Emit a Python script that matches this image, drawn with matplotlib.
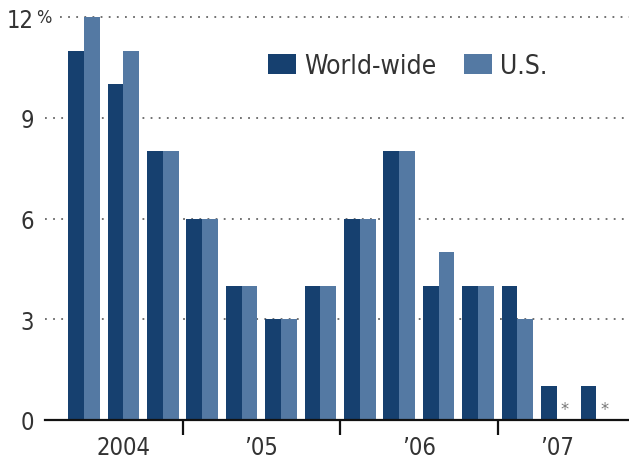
import matplotlib
matplotlib.use('Agg')
import matplotlib.pyplot as plt
import numpy as np

plt.rcParams['font.family'] = ['DejaVu Sans']
plt.rcParams['font.stretch'] = 'condensed'

# quarterly values, 2004 Q2 .. 2007 Q3
world = [11, 10, 8, 6, 4, 3, 4, 6, 8, 4, 4, 4, 1, 1]
us = [12, 11, 8, 6, 4, 3, 4, 6, 8, 5, 4, 3, None, None]
years = ['2004', '\u201905', '\u201906', '\u201907']
year_pos = [1, 4.5, 8.5, 12]
year_breaks = [2.5, 6.5, 10.5]
yticks = [0, 3, 6, 9, 12]

dark = '#16406f'
light = '#5479a3'
txt = '#333333'

fig = plt.figure(figsize=(6.29, 4.60), dpi=100)
ax = fig.add_axes([45 / 629, 39 / 460, 584 / 629, 413 / 460])

x = np.arange(len(world))
w = 0.4
ax.bar(x - w / 2, world, width=w, color=dark, zorder=2, label='World-wide')
us_vals = [v if v is not None else 0 for v in us]
ax.bar(x + w / 2, us_vals, width=w, color=light, zorder=2, label='U.S.')
for i, v in enumerate(us):
    if v is None:
        ax.text(x[i] + w / 2, 0.05, '*', ha='center', va='bottom',
                fontsize=13, color='#777777', zorder=3)

ax.set_xlim(-0.99, 13.83)
ax.set_ylim(0, 12.3)

# dotted gridlines
for t in yticks[1:]:
    xmin = 15 / 584 if t == 12 else 0
    ax.axhline(t, xmin=xmin, color='#666666', lw=1.3,
               ls=(0, (1, 3.5)), zorder=0)

for s in ['top', 'right', 'left']:
    ax.spines[s].set_visible(False)
ax.spines['bottom'].set_linewidth(1.6)
ax.spines['bottom'].set_color('#111111')

ax.set_yticks(yticks)
ax.set_yticklabels([str(t) for t in yticks], fontsize=17, color=txt)
ax.tick_params(axis='y', length=0, pad=8)
ax.text(-0.99 - 9 / 39.4, 12, '%', ha='left', va='center',
        fontsize=13, color=txt)

ax.set_xticks(year_breaks)
ax.set_xticklabels([])
ax.tick_params(axis='x', length=11, width=1.6, direction='out', color='#111111')
for p, lab in zip(year_pos, years):
    ax.text(p, -0.8, lab, ha='center', va='center', fontsize=17, color=txt)

leg = ax.legend(loc='upper left', bbox_to_anchor=(268 / 629, 1 - 54 / 460),
                bbox_transform=fig.transFigure, ncol=2, frameon=False,
                fontsize=19, handlelength=1.06, handleheight=0.76,
                handletextpad=0.3, columnspacing=1.05, borderpad=0,
                borderaxespad=0)
for t in leg.get_texts():
    t.set_color(txt)

fig.savefig('out.png', dpi=100)
